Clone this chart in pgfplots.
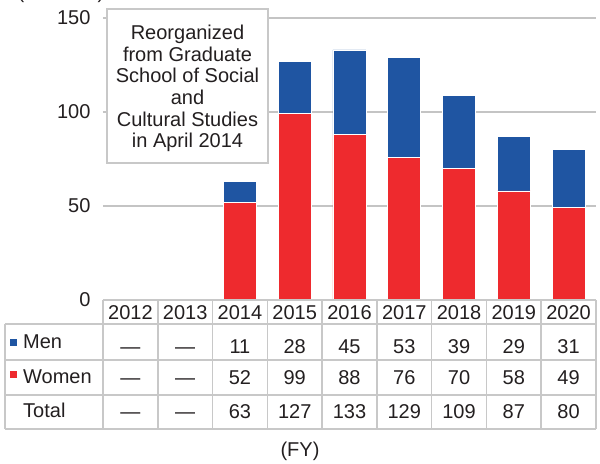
\documentclass[border=0pt]{standalone}
\usepackage{fontspec}
\setmainfont{Liberation Sans}
\usepackage{pgfplots}
\pgfplotsset{compat=1.18}
\definecolor{menblue}{HTML}{1F55A2}
\definecolor{womred}{HTML}{EE2A2E}
\definecolor{gridgray}{HTML}{C4C4C4}
\definecolor{tabgray}{HTML}{C8C8C8}
\definecolor{txt}{HTML}{231F20}
\begin{document}
\begin{tikzpicture}[font=\fontsize{20bp}{21.7bp}\selectfont, every node/.style={text=txt}]
\useasboundingbox (-103bp,-164bp) rectangle (497bp,300bp);
\begin{axis}[
  at={(0,0)}, anchor=south west,
  scale only axis, width=493bp, height=282bp,
  xmin=-0.5, xmax=8.5, ymin=0, ymax=150,
  ybar stacked, bar width=33bp,
  axis line style={draw=none},
  xtick=\empty,
  ytick={0,50,100,150},
  ymajorgrids,
  grid style={gridgray, line width=1.5bp},
  major tick length=0pt,
  /pgf/number format/assume math mode=true,
  yticklabel style={font=\fontsize{20bp}{22bp}\selectfont, text=txt, xshift=-9bp},
  clip=false,
]
\addplot[fill=womred, draw=white, line width=0.8bp] coordinates {(2,52) (3,99) (4,88) (5,76) (6,70) (7,58) (8,49)};
\addplot[fill=menblue, draw=white, line width=0.8bp] coordinates {(2,11) (3,28) (4,45) (5,53) (6,39) (7,29) (8,31)};
\end{axis}
% (Persons) label, clipped at top
\node[anchor=base] at (-42bp,301bp) {(Persons)};
% annotation box
\draw[tabgray, fill=white, line width=1.5bp] (4bp,291bp) rectangle (165bp,137bp);
\foreach \t [count=\i from 0] in {Reorganized,from Graduate,School of Social,and,Cultural Studies,in April 2014}{
  \node[anchor=base, inner sep=0pt] at (84.5bp,{260.5bp-\i*21.7bp}) {\t};
}
% table grid
\def\cw{54.778}
\begin{scope}[tabgray, line width=1.5bp]
\draw (0bp,0bp) -- (493bp,0bp);
\draw (-98bp,-24bp) -- (493bp,-24bp);
\draw (-98bp,-60bp) -- (493bp,-60bp);
\draw (-98bp,-95bp) -- (493bp,-95bp);
\draw (-98bp,-129bp) -- (493bp,-129bp);
\draw (-98bp,-24bp) -- (-98bp,-129bp);
\foreach \k in {0,...,9}{
  \draw ({\k*\cw*1bp},0bp) -- ({\k*\cw*1bp},-129bp);
}
\end{scope}
% headers
\foreach \y [count=\i from 0] in {2012,2013,2014,2015,2016,2017,2018,2019,2020}{
  \node[anchor=base, inner sep=0pt] at ({(\i+0.5)*\cw*1bp},-19bp) {\y};
}
% row labels
\fill[menblue] (-93bp,-45.5bp) rectangle (-86bp,-38.5bp);
\fill[womred] (-93bp,-77.5bp) rectangle (-86bp,-70.5bp);
\node[anchor=base west, inner sep=0pt] at (-80bp,-48bp) {Men};
\node[anchor=base west, inner sep=0pt] at (-80bp,-83bp) {Women};
\node[anchor=base west, inner sep=0pt] at (-80bp,-117bp) {Total};
% values
\foreach \v [count=\i from 0] in {—,—,11,28,45,53,39,29,31}{
  \node[anchor=base, inner sep=0pt] at ({(\i+0.5)*\cw*1bp},-53bp) {\v};
}
\foreach \v [count=\i from 0] in {—,—,52,99,88,76,70,58,49}{
  \node[anchor=base, inner sep=0pt] at ({(\i+0.5)*\cw*1bp},-84bp) {\v};
}
\foreach \v [count=\i from 0] in {—,—,63,127,133,129,109,87,80}{
  \node[anchor=base, inner sep=0pt] at ({(\i+0.5)*\cw*1bp},-118bp) {\v};
}
\node[anchor=base] at (197bp,-156bp) {(FY)};
\end{tikzpicture}
\end{document}
